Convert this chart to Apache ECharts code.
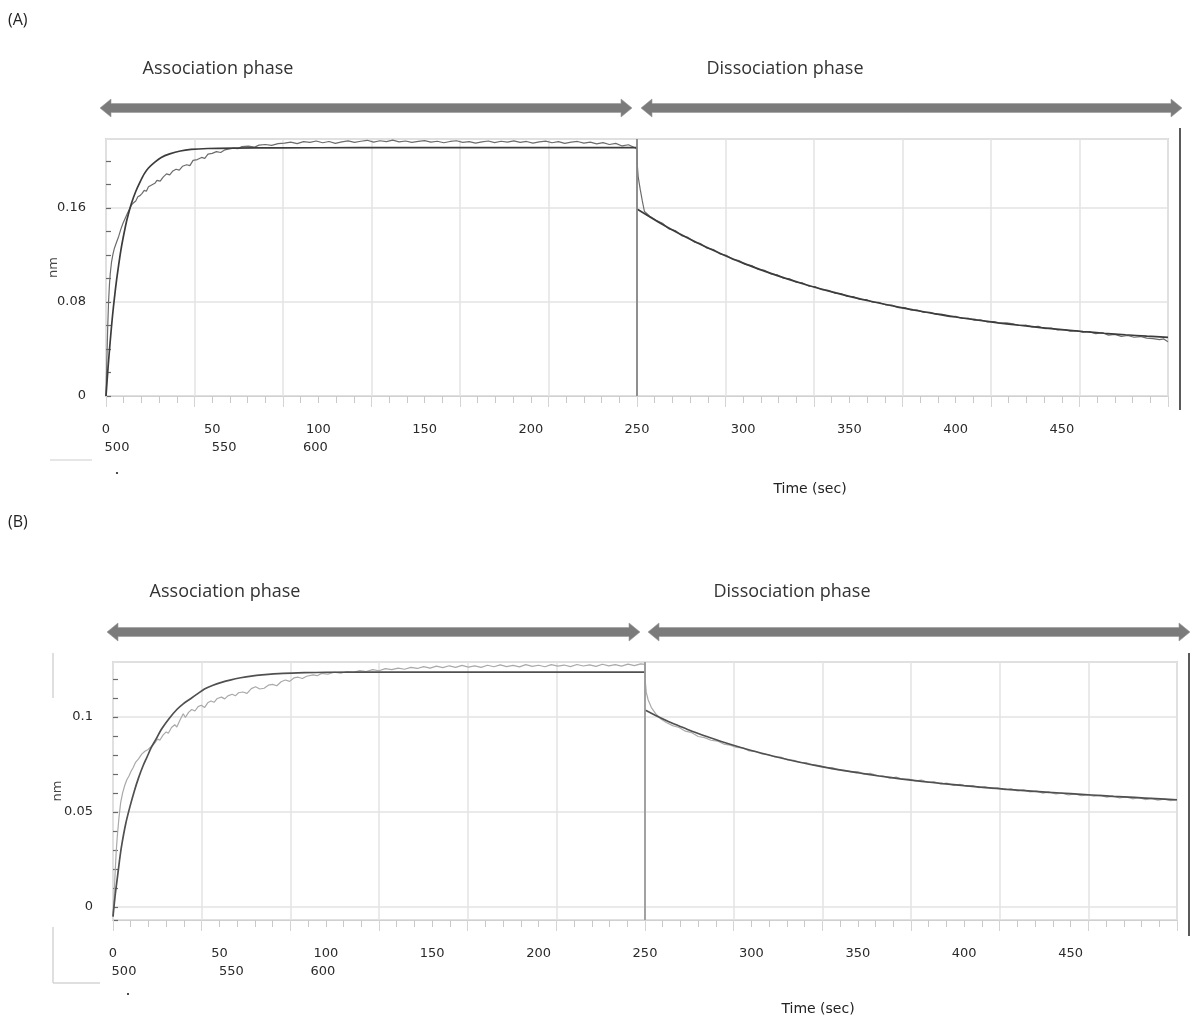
<!DOCTYPE html>
<html>
<head>
<meta charset="utf-8">
<script src="https://cdn.jsdelivr.net/npm/echarts@6/dist/echarts.min.js"></script>
<style>
  html, body { margin: 0; padding: 0; background: #ffffff; }
  #chart { width: 1192px; height: 1025px; }
</style>
</head>
<body>
<div id="chart"></div>
<script>
// ---------------- data ----------------
const panelLabels = ['(A)', '(B)'];
const phaseLabels = ['Association phase', 'Dissociation phase'];
const xTickLabels = [0, 50, 100, 150, 200, 250, 300, 350, 400, 450];
const secondRowLabels = ['500', '550', '600'];   // under 0, 50, 100
const yTicksA = [0, 0.08, 0.16];
const yTicksB = [0, 0.05, 0.1];
const yAxisName = 'nm';
const xAxisName = 'Time (sec)';
const phaseBoundary = 250;

// Panel A — association, fitted curve
const aAssocFit = [[0,0],[1,0.025],[2,0.047],[3,0.067],[4,0.084],[5,0.099],[6,0.112],[7,0.124],[8,0.134],[9,0.143],[10,0.151],[12,0.164],[14,0.174],[16,0.182],[18,0.189],[20,0.194],[23,0.199],[26,0.203],[30,0.206],[35,0.2085],[40,0.2098],[48,0.2106],[60,0.2110],[80,0.2112],[120,0.2113],[250,0.2113]];
// Panel A — association, measured
const aAssocData = [[0,0],[0.4,0.030],[0.8,0.058],[1.2,0.080],[1.6,0.094],[2,0.104],[2.6,0.114],[3.3,0.121],[4,0.126],[5,0.131],[6,0.136],[7,0.142],[8,0.147],[9,0.151],[10,0.155],[11,0.159],[12,0.1625],[13,0.1645],[14,0.1660],[15,0.1695],[16,0.1705],[17,0.1725],[18,0.1750],[19,0.1742],[20,0.1780],[21.5,0.1795],[23,0.1810],[24,0.1835],[25.5,0.1828],[27,0.1865],[28.5,0.1890],[30,0.1882],[31.5,0.1915],[33,0.1930],[34.5,0.1922],[36,0.1955],[38,0.1968],[39.5,0.1960],[41,0.2005],[43,0.2012],[45,0.2030],[46.5,0.2022],[48,0.2058],[50,0.2065],[52,0.2080],[54,0.2072],[56,0.2095],[58,0.2102],[60,0.2110],[62,0.2104],[64,0.2122],[67,0.2126],[70,0.2118],[72,0.2135],[75,0.2140],[78,0.2133],[81,0.2148],
[84,0.2152],[87,0.2160],[90,0.2148],[93,0.2165],[96,0.2158],[99,0.2170],[102,0.2155],[105,0.2166],[108,0.2150],[111,0.2162],[114,0.2171],[117,0.2158],[120,0.2168],[123,0.2176],[126,0.2160],[129,0.2172],[132,0.2165],[135,0.2178],[138,0.2162],[141,0.2170],[144,0.2158],[147,0.2167],[150,0.2173],[153,0.2160],[156,0.2168],[159,0.2155],[162,0.2166],[165,0.2172],[168,0.2158],[171,0.2165],[174,0.2152],[177,0.2163],[180,0.2170],[183,0.2156],[186,0.2168],[189,0.2160],[192,0.2171],[195,0.2158],[198,0.2166],[201,0.2152],[204,0.2163],[207,0.2169],[210,0.2155],[213,0.2164],[216,0.2150],[219,0.2160],[222,0.2166],[225,0.2152],[228,0.2160],[231,0.2146],[234,0.2156],[237,0.2140],[240,0.2150],[243,0.2128],[246,0.2138],[249,0.2112],[250,0.2100]];
// Panel A — dissociation, fitted curve
const aDissFit = [[250,0.1591],[260,0.1481],[270,0.1380],[280,0.1289],[290,0.1207],[300,0.1131],[310,0.1063],[320,0.1001],[330,0.0945],[340,0.0894],[350,0.0848],[360,0.0806],[370,0.0768],[380,0.0733],[390,0.0701],[400,0.0672],[410,0.0647],[420,0.0623],[430,0.0602],[440,0.0582],[450,0.0565],[460,0.0549],[470,0.0534],[480,0.0521],[490,0.0509],[500,0.0499]];
// Panel A — dissociation, measured
const aDissData = [[250,0.2100],[250.2,0.1950],[250.6,0.1860],[251.5,0.1760],[252.5,0.1660],[253.5,0.1570],[256,0.1530],[259,0.1495],[262,0.1470],[265,0.1422],[268,0.1408],[271,0.1365],[274,0.1350],[277,0.1310],[280,0.1296],[283,0.1258],[286,0.1246],[289,0.1210],[292,0.1198],[295,0.1163],[298,0.1152],[301,0.1120],[304,0.1110],[307,0.1078],[310,0.1070],[313,0.1040],[316,0.1032],[319,0.1002],[322,0.0996],[325,0.0968],[328,0.0962],[331,0.0934],[334,0.0930],[337,0.0904],[340,0.0900],[343,0.0876],[346,0.0872],[349,0.0848],[352,0.0845],[355,0.0822],[358,0.0820],[361,0.0798],[364,0.0796],[367,0.0776],[370,0.0773],[373,0.0752],[376,0.0752],[379,0.0732],[382,0.0731],[385,0.0712],[388,0.0712],[391,0.0694],[394,0.0694],[397,0.0676],[400,0.0677],[403,0.0660],[406,0.0662],[409,0.0645],[412,0.0647],[415,0.0630],[418,0.0634],[421,0.0618],[424,0.0622],[427,0.0614],[430,0.0600],[433,0.0604],[436,0.0588],[439,0.0592],[442,0.0574],[445,0.0578],[448,0.0562],[451,0.0566],[454,0.0552],[457,0.0556],[460,0.0542],[463,0.0548],[466,0.0530],[469,0.0538],[472,0.0518],[475,0.0524],[478,0.0508],[481,0.0515],[484,0.0500],[487,0.0506],[490,0.0492],[493,0.0488],[496,0.0480],[498,0.0486],[500,0.0462]];

// Panel B — association, fitted curve
const bAssocFit = [[0,-0.005],[1,0.006],[2,0.015],[3,0.024],[4,0.032],[6,0.044],[8,0.053],[10,0.061],[12,0.068],[14,0.074],[16,0.079],[18,0.084],[20,0.088],[23,0.094],[26.4,0.0993],[30,0.104],[33,0.107],[36.6,0.1098],[40,0.1125],[43,0.1148],[47,0.1168],[51,0.1183],[55,0.1195],[60,0.1207],[65,0.1216],[70,0.1222],[80,0.1230],[90,0.1234],[100,0.1236],[130,0.1237],[250,0.1237]];
// Panel B — association, measured
const bAssocData = [[0,-0.005],[0.5,0.006],[1,0.018],[1.5,0.029],[2,0.037],[2.8,0.047],[3.6,0.055],[4.5,0.060],[5.5,0.064],[6.5,0.067],[7.5,0.069],[8.5,0.0715],[9.5,0.0735],[10.5,0.076],[12,0.078],[13.5,0.0805],[15,0.082],[16.5,0.083],[18,0.0845],[19.5,0.0862],[21,0.0885],[22,0.0878],[23.5,0.0905],[25,0.0922],[26,0.0915],[27.5,0.0945],[29,0.0960],[30,0.0948],[31.5,0.0985],[33,0.1018],[34,0.0998],[35.5,0.1025],[37,0.1040],[38.5,0.1032],[40,0.1055],[41.5,0.1062],[43,0.1050],[44.5,0.1075],[46,0.1085],[47.5,0.1078],[49,0.1098],[51,0.1105],[52.5,0.1096],[54,0.1112],[56,0.1120],[57.5,0.1112],[59,0.1128],[61,0.1132],[63,0.1125],[65,0.1150],[67,0.1160],[69,0.1148],[71,0.1152],[73,0.1168],[75,0.1172],[77,0.1165],[79,0.1186],[81,0.1195],[83,0.1188],[85,0.1206],[87,0.1210],[89,0.1203],[91,0.1215],[94,0.1222],[96,0.1218],[98,0.1230],[101,0.1226],[104,0.1236],[107,0.1231],[110,0.1240],[113,0.1236],[116,0.1245],[119,0.1240],[122,0.1250],[125,0.1244],[128,0.1255],[131,0.1250],[134,0.1258],[137,0.1252],[140,0.1262],[143,0.1256],[146,0.1266],[149,0.1258],[152,0.1268],[155,0.1260],[158,0.1270],[161,0.1262],[164,0.1272],[167,0.1263],[170,0.1270],[173,0.1262],[176,0.1273],[179,0.1265],[182,0.1275],[185,0.1266],[188,0.1272],[191,0.1264],[194,0.1276],[197,0.1267],[200,0.1273],[203,0.1265],[206,0.1276],[209,0.1268],[212,0.1274],[215,0.1266],[218,0.1277],[221,0.1269],[224,0.1275],[227,0.1267],[230,0.1278],[233,0.1270],[236,0.1276],[239,0.1268],[242,0.1279],[245,0.1271],[248,0.1280],[250,0.1278]];
// Panel B — dissociation, fitted curve
const bDissFit = [[250,0.1037],[255,0.1008],[260,0.0982],[265,0.0958],[270,0.0935],[275,0.0914],[280,0.0894],[290,0.0857],[300,0.0824],[310,0.0795],[320,0.0769],[330,0.0746],[340,0.0725],[350,0.0707],[360,0.0690],[370,0.0675],[380,0.0662],[390,0.0650],[400,0.0639],[410,0.0629],[420,0.0620],[430,0.0612],[440,0.0604],[450,0.0597],[460,0.0590],[470,0.0583],[480,0.0577],[490,0.0571],[500,0.0565]];
// Panel B — dissociation, measured
const bDissData = [[250,0.1278],[250.2,0.1180],[250.6,0.1130],[251.5,0.1090],[253,0.1050],[255,0.1018],[257.5,0.0990],[260,0.0972],[263,0.0955],[266,0.0945],[269,0.0926],[272,0.0918],[275,0.0898],[278,0.0892],[281,0.0878],[284,0.0874],[287,0.0858],[290,0.0852],[293,0.0840],[296,0.0838],[299,0.0822],[302,0.0820],[305,0.0806],[308,0.0803],[311,0.0790],[314,0.0789],[317,0.0775],[320,0.0772],[323,0.0762],[326,0.0760],[329,0.0748],[332,0.0745],[335,0.0736],[338,0.0734],[341,0.0722],[344,0.0720],[347,0.0712],[350,0.0713],[353,0.0700],[356,0.0704],[359,0.0692],[362,0.0690],[365,0.0678],[368,0.0684],[371,0.0672],[374,0.0674],[377,0.0664],[380,0.0668],[383,0.0656],[386,0.0660],[389,0.0648],[392,0.0652],[395,0.0640],[398,0.0646],[401,0.0636],[404,0.0640],[407,0.0628],[410,0.0634],[413,0.0624],[416,0.0627],[419,0.0618],[422,0.0623],[425,0.0612],[428,0.0617],[431,0.0606],[434,0.0610],[437,0.0600],[440,0.0606],[443,0.0596],[446,0.0600],[449,0.0590],[452,0.0596],[455,0.0586],[458,0.0591],[461,0.0584],[464,0.0588],[467,0.0578],[470,0.0584],[473,0.0574],[476,0.0580],[479,0.0570],[482,0.0576],[485,0.0566],[488,0.0572],[491,0.0563],[494,0.0568],[497,0.0560],[500,0.0564]];

// ---------------- chart construction ----------------
const FONT = 'DejaVu Sans';
const panels = [
  { grid: { left: 106, top: 139, width: 1062, height: 257 },
    yMin: 0, yMax: 0.2187, yTickStep: 0.02, yLabelStep: 0.08, yTicks: yTicksA, nameGap: 46,
    series: [aAssocData, aAssocFit, aDissData, aDissFit],
    dataColor: '#6c6c6c', fitColor: '#3c3c3c', boundaryColor: '#858585' },
  { grid: { left: 113, top: 662, width: 1064, height: 258 },
    yMin: -0.0068, yMax: 0.129, yTickStep: 0.01, yLabelStep: 0.05, yTicks: yTicksB, nameGap: 49,
    series: [bAssocData, bAssocFit, bDissData, bDissFit],
    dataColor: '#a9a9a9', fitColor: '#505050', boundaryColor: '#9a9a9a' }
];

const grids = [], xAxes = [], yAxes = [], series = [];
const isIn = (list, v) => list.some(t => Math.abs(t - v) < 1e-9);

panels.forEach((p, g) => {
  grids.push(Object.assign({ show: true, borderColor: '#d6d6d6', borderWidth: 2, containLabel: false }, p.grid));
  const xBase = xAxes.length, yBase = yAxes.length;
  const xCommon = { type: 'value', gridIndex: g, min: 0, max: 500, position: 'bottom' };
  // 0: main labels
  xAxes.push(Object.assign({}, xCommon, {
    interval: 50,
    axisLine: { show: false }, axisTick: { show: false }, splitLine: { show: false },
    axisLabel: { margin: 27, fontSize: 13, fontFamily: FONT, color: '#2a2a2a',
      showMaxLabel: false,
      formatter: v => isIn(xTickLabels, v) ? String(Math.round(v)) : '' }
  }));
  // 1: second row of labels
  xAxes.push(Object.assign({}, xCommon, {
    interval: 50,
    axisLine: { show: false }, axisTick: { show: false }, splitLine: { show: false },
    axisLabel: { margin: 45, fontSize: 13, fontFamily: FONT, color: '#2a2a2a', showMaxLabel: false,
      formatter: v => {
        const i = Math.round(v / 50);
        return (Math.abs(v - i * 50) < 1e-6 && i < secondRowLabels.length) ? '{r' + i + '|' + secondRowLabels[i] + '}' : '';
      },
      rich: {
        r0: { fontSize: 13, fontFamily: FONT, color: '#2a2a2a', padding: [0, 0, 0, 22] },
        r1: { fontSize: 13, fontFamily: FONT, color: '#2a2a2a', padding: [0, 0, 0, 24] },
        r2: { fontSize: 13, fontFamily: FONT, color: '#2a2a2a', padding: [0, 6, 0, 0] }
      } }
  }));
  // 2: minor ticks + baseline
  xAxes.push(Object.assign({}, xCommon, {
    interval: 500 / 60,
    axisLine: { show: true, lineStyle: { color: '#d0d0d0', width: 1 } },
    axisTick: { show: true, inside: false, length: 7, lineStyle: { color: '#c9c9c9', width: 1 } },
    axisLabel: { show: false }, splitLine: { show: false }
  }));
  // 3: vertical grid lines
  xAxes.push(Object.assign({}, xCommon, {
    interval: 500 / 12,
    axisLine: { show: false },
    axisTick: { show: true, inside: false, length: 11, lineStyle: { color: '#d4d4d4', width: 1 } },
    axisLabel: { show: false },
    splitLine: { show: true, lineStyle: { color: '#e3e3e3', width: 1.5 } }
  }));
  // y 0: ticks + labels
  yAxes.push({
    type: 'value', gridIndex: g, position: 'left', min: p.yMin, max: p.yMax,
    minInterval: p.yTickStep, maxInterval: p.yTickStep,
    axisLine: { show: false },
    axisTick: { show: true, inside: true, length: 5, lineStyle: { color: '#6a6a6a', width: 1.2 } },
    splitLine: { show: false },
    axisLabel: { margin: 20, fontSize: 13, fontFamily: FONT, color: '#2a2a2a',
      showMinLabel: true, showMaxLabel: false,
      formatter: v => isIn(p.yTicks, v) ? String(+v.toFixed(3)) : '' },
    name: yAxisName, nameLocation: 'middle', nameGap: p.nameGap, nameRotate: 90,
    nameMoveOverlap: false,
    nameTextStyle: { fontSize: 13, fontFamily: FONT, color: '#444' }
  });
  // y 1: horizontal grid lines
  yAxes.push({
    type: 'value', gridIndex: g, position: 'left', min: p.yMin, max: p.yMax,
    minInterval: p.yLabelStep, maxInterval: p.yLabelStep,
    axisLine: { show: false }, axisTick: { show: false }, axisLabel: { show: false },
    splitLine: { show: true, lineStyle: { color: '#e3e3e3', width: 1.5 } }
  });

  const lineBase = { type: 'line', xAxisIndex: xBase, yAxisIndex: yBase, showSymbol: false,
    symbol: 'none', animation: false, silent: true };
  const [assocData, assocFit, dissData, dissFit] = p.series;
  series.push(Object.assign({}, lineBase, { name: 'data-assoc-' + g, data: assocData,
    lineStyle: { color: p.dataColor, width: 1.2 }, z: 3 }));
  series.push(Object.assign({}, lineBase, { name: 'data-diss-' + g, data: dissData,
    lineStyle: { color: p.dataColor, width: 1.2 }, z: 3 }));
  series.push(Object.assign({}, lineBase, { name: 'fit-assoc-' + g, data: assocFit, smooth: 0.3,
    lineStyle: { color: p.fitColor, width: 1.7 }, z: 4,
    markLine: { silent: true, symbol: ['none', 'none'], animation: false,
      label: { show: false }, lineStyle: { color: p.boundaryColor, width: 1.8, type: 'solid' },
      data: [{ xAxis: phaseBoundary }] } }));
  series.push(Object.assign({}, lineBase, { name: 'fit-diss-' + g, data: dissFit, smooth: 0.3,
    lineStyle: { color: p.fitColor, width: 1.7 }, z: 4 }));
});

// ---------------- decorations ----------------
function doubleArrow(x1, x2, yc, bar, head, len, color) {
  return { type: 'polygon', silent: true, z: 10,
    shape: { points: [[x1, yc], [x1 + len, yc - head / 2], [x1 + len, yc - bar / 2], [x2 - len, yc - bar / 2],
      [x2 - len, yc - head / 2], [x2, yc], [x2 - len, yc + head / 2], [x2 - len, yc + bar / 2],
      [x1 + len, yc + bar / 2], [x1 + len, yc + head / 2]] },
    style: { fill: color, stroke: '#9a9a9a', lineWidth: 0.6 } };
}
function text(str, x, y, size, family, align, color) {
  return { type: 'text', silent: true, z: 10, x: x, y: y,
    style: { text: str, fontSize: size, fontFamily: family, fill: color || '#333',
      align: align || 'center', verticalAlign: 'middle' } };
}
function seg(x1, y1, x2, y2, color, w) {
  return { type: 'line', silent: true, z: 10, shape: { x1, y1, x2, y2 },
    style: { stroke: color, lineWidth: w } };
}

const graphic = [
  text(panelLabels[0], 8, 20, 16, 'Open Sans', 'left', '#222'),
  text(panelLabels[1], 8, 522, 16, 'Open Sans', 'left', '#222'),
  text(phaseLabels[0], 218, 69, 18, 'Open Sans', 'center', '#333'),
  text(phaseLabels[1], 785, 69, 18, 'Open Sans', 'center', '#333'),
  text(phaseLabels[0], 225, 592, 18, 'Open Sans', 'center', '#333'),
  text(phaseLabels[1], 792, 592, 18, 'Open Sans', 'center', '#333'),
  text(xAxisName, 810, 489, 14, FONT, 'center', '#222'),
  text(xAxisName, 818, 1009, 14, FONT, 'center', '#222'),
  doubleArrow(100, 632, 108, 9, 18, 11, '#7b7b7b'),
  doubleArrow(641, 1182, 108, 9, 18, 11, '#7b7b7b'),
  doubleArrow(107, 640, 632, 9, 18, 11, '#7b7b7b'),
  doubleArrow(648, 1190, 632, 9, 18, 11, '#7b7b7b'),
  seg(1180, 128, 1180, 410, '#5a5a5a', 2),
  seg(1189, 653, 1189, 936, '#5a5a5a', 2),
  seg(53, 653, 53, 698, '#d4d4d4', 1.5),
  seg(53, 927, 53, 983, '#d4d4d4', 1.5),
  seg(53, 983, 100, 983, '#d4d4d4', 1.5),
  seg(50, 460, 92, 460, '#e6e6e6', 2),
  { type: 'circle', silent: true, shape: { cx: 117, cy: 473, r: 1.1 }, style: { fill: '#222' } },
  { type: 'circle', silent: true, shape: { cx: 128, cy: 994, r: 1.1 }, style: { fill: '#222' } }
];

const chart = echarts.init(document.getElementById('chart'), null, { renderer: 'canvas' });
chart.setOption({
  backgroundColor: '#ffffff',
  animation: false,
  grid: grids,
  xAxis: xAxes,
  yAxis: yAxes,
  series: series,
  graphic: graphic
});
</script>
</body>
</html>
